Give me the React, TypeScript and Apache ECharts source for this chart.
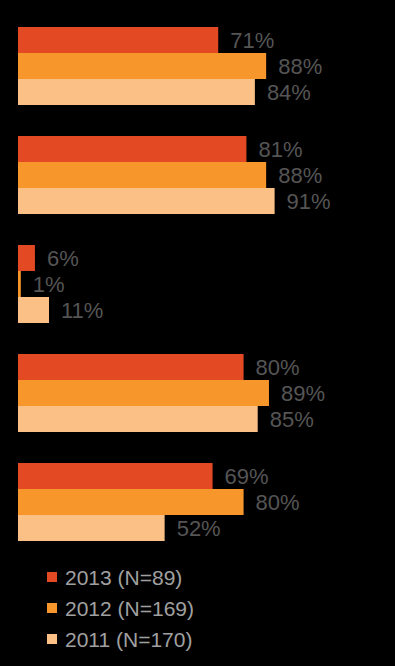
import React, { useEffect, useRef } from "react";
import * as echarts from "echarts";

const categories = ["Item 1", "Item 2", "Item 3", "Item 4", "Item 5"];
const seriesNames = ["2013 (N=89)", "2012 (N=169)", "2011 (N=170)"];
const values2013 = [71, 81, 6, 80, 69];
const values2012 = [88, 88, 1, 89, 80];
const values2011 = [84, 91, 11, 85, 52];
const colors = ["#E34A23", "#F7962A", "#FBC086"];

export default function App() {
  const ref = useRef<HTMLDivElement>(null);
  useEffect(() => {
    if (!ref.current) return;
    const chart = echarts.init(ref.current, null, { renderer: "svg" });
    const data = [values2013, values2012, values2011];
    chart.setOption({
      animation: false,
      backgroundColor: "#000000",
      grid: { left: 18, width: 282, top: 11.5, bottom: 109.5 },
      xAxis: { type: "value", min: 0, max: 100, show: false },
      yAxis: {
        type: "category",
        data: categories,
        inverse: true,
        show: false,
      },
      legend: {
        orient: "vertical",
        left: 42,
        top: 561,
        itemWidth: 10,
        itemHeight: 10,
        itemGap: 9,
        icon: "rect",
        data: seriesNames,
        textStyle: {
          color: "#a0a0a0",
          fontSize: 21,
          lineHeight: 22,
          fontFamily: "Liberation Sans, Arial, sans-serif",
          padding: [0, 0, 0, 3],
        },
      },
      series: seriesNames.map((name, i) => ({
        name,
        type: "bar",
        data: data[i],
        barWidth: 26,
        barGap: "0%",
        barCategoryGap: "28.4%",
        itemStyle: { color: colors[i] },
        label: {
          show: true,
          position: "right",
          distance: 12,
          formatter: "{c}%",
          color: "#555555",
          fontSize: 22,
          fontFamily: "Liberation Sans, Arial, sans-serif",
        },
      })),
    });
    return () => chart.dispose();
  }, []);
  return (
    <div
      ref={ref}
      style={{ position: "absolute", left: 0, top: 0, width: 395, height: 666 }}
    />
  );
}
